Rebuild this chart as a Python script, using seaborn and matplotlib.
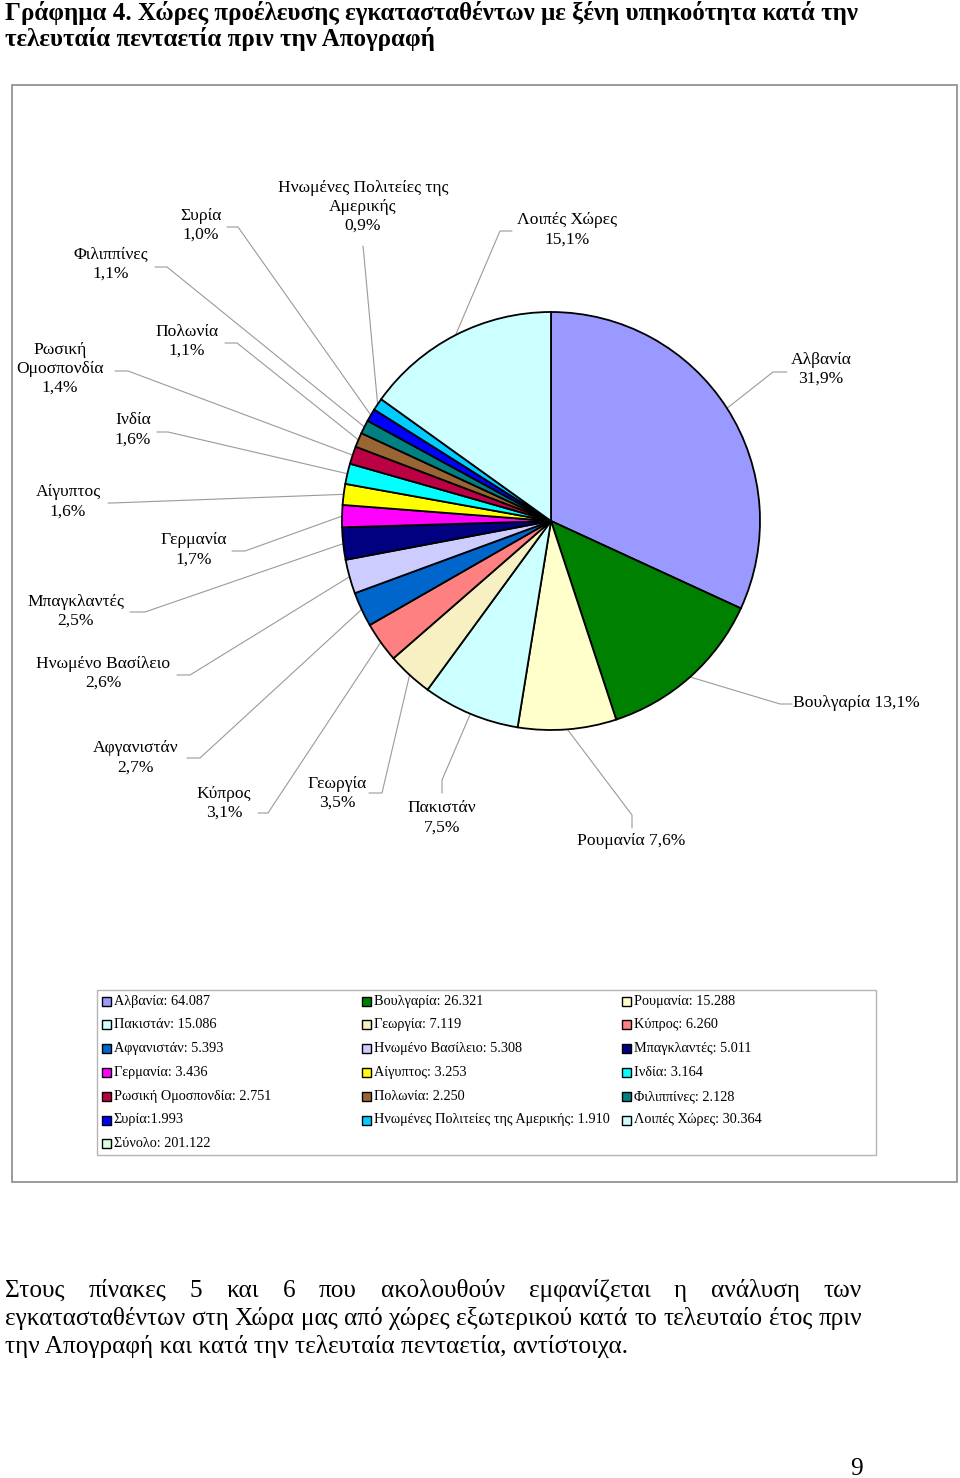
import numpy as np
import matplotlib
matplotlib.use("Agg")
import matplotlib.pyplot as plt
import seaborn as sns
from matplotlib.patches import Rectangle

# ---------------- data ----------------
countries = ["Αλβανία", "Βουλγαρία", "Ρουμανία", "Πακιστάν", "Γεωργία", "Κύπρος",
             "Αφγανιστάν", "Ηνωμένο Βασίλειο", "Μπαγκλαντές", "Γερμανία", "Αίγυπτος",
             "Ινδία", "Ρωσική Ομοσπονδία", "Πολωνία", "Φιλιππίνες", "Συρία",
             "Ηνωμένες Πολιτείες της Αμερικής", "Λοιπές Χώρες"]
values = [64087, 26321, 15288, 15086, 7119, 6260, 5393, 5308, 5011, 3436, 3253,
          3164, 2751, 2250, 2128, 1993, 1910, 30364]
colors = ["#9999FF", "#008000", "#FFFFCC", "#CCFFFF", "#F7F0C2", "#FF8080",
          "#0066CC", "#CCCCFF", "#000080", "#FF00FF", "#FFFF00", "#00FFFF",
          "#BB0044", "#996633", "#008080", "#0000FF", "#00CCFF", "#CCFFFF"]
# names as shown beside the pie (with manual line breaks)
pie_names = ["Αλβανία", "Βουλγαρία", "Ρουμανία", "Πακιστάν", "Γεωργία", "Κύπρος",
             "Αφγανιστάν", "Ηνωμένο Βασίλειο", "Μπαγκλαντές", "Γερμανία", "Αίγυπτος",
             "Ινδία", "Ρωσική\nΟμοσπονδία", "Πολωνία", "Φιλιππίνες", "Συρία",
             "Ηνωμένες Πολιτείες της\nΑμερικής", "Λοιπές Χώρες"]
pct_sep = ["\n", " ", " "] + ["\n"] * 15
legend_sep = [" "] * 15 + ["", " ", " "]
total_name = "Σύνολο"
total_color = "#DDFFDD"

title_lines = ["Γράφημα 4. Χώρες προέλευσης εγκατασταθέντων με ξένη υπηκοότητα κατά την",
               "τελευταία πενταετία πριν την Απογραφή"]
paragraph_lines = ["Στους πίνακες 5 και 6 που ακολουθούν εμφανίζεται η ανάλυση των",
                   "εγκατασταθέντων στη Χώρα μας από χώρες εξωτερικού κατά το τελευταίο έτος πριν",
                   "την Απογραφή και κατά την τελευταία πενταετία, αντίστοιχα."]
page_number = "9"

# ---------------- layout (pixels) ----------------
W, H = 960, 1478
CX, CY, R = 551, 521, 209
label_pos = [(821, 369), (856, 703), (631, 841), (442, 818), (337, 793), (224, 803),
             (136, 758), (103, 673), (76, 611), (194, 550), (68, 502), (133, 430),
             (60, 369), (187, 341), (111, 264), (201, 225), (363, 207), (567, 230)]
leader_elbow = [(773, 372), (780, 704), (632, 815), (442, 780), (382, 793), (268, 813),
                (200, 758), (190, 675), (145, 612), (245, 551), (112, 503), (168, 432),
                (128, 371), (237, 343), (167, 267), (238, 227), (364, 256), (500, 231)]
leader_end = [(787, 372), (792, 704), (632, 828), (442, 793), (369, 793), (258, 813),
              (187, 758), (177, 675), (130, 612), (232, 551), (108, 503), (157, 432),
              (115, 371), (225, 343), (155, 267), (227, 227), (363, 246), (512, 231)]

sns.set_theme(style="white")
plt.rcParams['font.family'] = ['Liberation Serif', 'DejaVu Serif']

fig = plt.figure(figsize=(W / 100, H / 100), dpi=100)
fig.patch.set_facecolor("white")
ov = fig.add_axes([0, 0, 1, 1])
ov.set_xlim(0, W)
ov.set_ylim(H, 0)
ov.axis("off")

PX = 0.72  # px -> pt

# outer chart frame and legend frame
ov.add_patch(Rectangle((12, 85), 945, 1097, fill=False, edgecolor="#8a8a8a", lw=1.2))
ov.add_patch(Rectangle((97, 990), 779, 165, fill=False, edgecolor="#b5b5b5", lw=1.0))

# pie
pax = fig.add_axes([(CX - R) / W, 1 - (CY + R) / H, 2 * R / W, 2 * R / H])
pax.pie(values, colors=colors, startangle=90, counterclock=False,
        wedgeprops=dict(edgecolor="black", linewidth=1.3))
pax.set_xlim(-1, 1)
pax.set_ylim(-1, 1)
pax.set_aspect("equal")
pax.axis("off")

total = float(sum(values))
cum = np.cumsum([0] + values[:-1])
for i, v in enumerate(values):
    mid = np.deg2rad(90 - 360 * (cum[i] + v / 2) / total)
    px, py = CX + R * np.cos(mid), CY - R * np.sin(mid)
    ex, ey = leader_elbow[i]
    tx, ty = leader_end[i]
    ov.plot([px, ex, tx], [py, ey, ty], color="#9a9a9a", lw=0.8)
    pct = f"{100 * v / total:.1f}".replace(".", ",") + "%"
    lx, ly = label_pos[i]
    ov.text(lx, ly, pie_names[i] + pct_sep[i] + pct, ha="center", va="center",
            fontsize=17.5 * PX, linespacing=1.25, color="black")

# legend (row-major, 3 columns)
def fmt(n):
    return f"{n:,}".replace(",", ".")

leg_items = [(countries[i] + ":" + legend_sep[i] + fmt(values[i]), colors[i])
             for i in range(len(values))]
leg_items.append((total_name + ": " + fmt(int(total)), total_color))
col_x = [102, 362, 622]
row_y0, row_dy = 1001, 23.8
for k, (txt, c) in enumerate(leg_items):
    r, cidx = divmod(k, 3)
    x = col_x[cidx]
    y = row_y0 + r * row_dy
    ov.add_patch(Rectangle((x, y - 4.5), 9, 9, facecolor=c, edgecolor="black", lw=1.0))
    ov.text(x + 12, y, txt, ha="left", va="center", fontsize=14.3 * PX, color="black")

# title
for j, line in enumerate(title_lines):
    ov.text(5, 20 + j * 26, line, ha="left", va="baseline", fontsize=25 * PX,
            fontweight="bold", color="black")

# paragraph (first two lines justified)
renderer = fig.canvas.get_renderer()
left, right = 5, 862
for j, line in enumerate(paragraph_lines):
    y = 1297 + j * 28
    if j < 2:
        words = line.split()
        objs = [ov.text(0, y, w, ha="left", va="baseline", fontsize=25.3 * PX, color="black")
                for w in words]
        widths = []
        for t in objs:
            bb = t.get_window_extent(renderer)
            widths.append(bb.width)
        gap = (right - left - sum(widths)) / (len(words) - 1)
        x = left
        for t, wdt in zip(objs, widths):
            t.set_x(x)
            x += wdt + gap
    else:
        ov.text(left, y, line, ha="left", va="baseline", fontsize=25.3 * PX, color="black")

ov.text(856, 1475, page_number, ha="center", va="baseline", fontsize=25.3 * PX, color="black")

fig.savefig("out.png", dpi=100, facecolor="white")
